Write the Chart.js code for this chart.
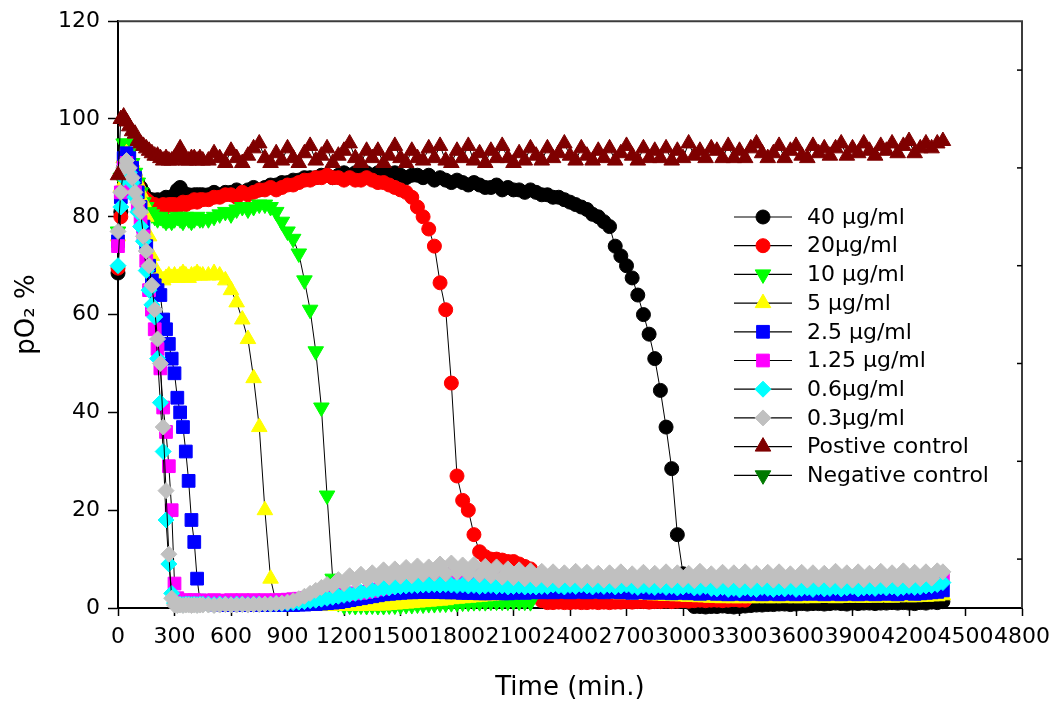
<!DOCTYPE html>
<html>
<head>
<meta charset="utf-8">
<script src="https://cdn.jsdelivr.net/npm/chart.js@4.4.1/dist/chart.umd.min.js"></script>
<style>
  html, body { margin: 0; padding: 0; background: #fff; }
  #wrap { width: 1063px; height: 709px; }
</style>
</head>
<body>
<div id="wrap"><canvas id="myChart" width="1063" height="709"></canvas></div>
<script>
// sampling times (min.)
var times = [
  0, 15, 30, 45, 60, 75, 90, 105, 120, 135,
  150, 165, 180, 195, 210, 225, 240, 255, 270, 285,
  300, 315, 330, 345, 360, 375, 390, 405, 420, 435,
  450,
  480, 510, 540, 570, 600, 630, 660, 690, 720, 750,
  780, 810, 840, 870, 900, 930, 960, 990, 1020, 1050,
  1080, 1110, 1140, 1170, 1200, 1230, 1260, 1290, 1320, 1350,
  1380, 1410, 1440, 1470, 1500, 1530, 1560, 1590, 1620, 1650,
  1680, 1710, 1740, 1770, 1800, 1830, 1860, 1890, 1920, 1950,
  1980, 2010, 2040, 2070, 2100, 2130, 2160, 2190, 2220, 2250,
  2280, 2310, 2340, 2370, 2400, 2430, 2460, 2490, 2520, 2550,
  2580, 2610, 2640, 2670, 2700, 2730, 2760, 2790, 2820, 2850,
  2880, 2910, 2940, 2970, 3000, 3030, 3060, 3090, 3120, 3150,
  3180, 3210, 3240, 3270, 3300, 3330, 3360, 3390, 3420, 3450,
  3480, 3510, 3540, 3570, 3600, 3630, 3660, 3690, 3720, 3750,
  3780, 3810, 3840, 3870, 3900, 3930, 3960, 3990, 4020, 4050,
  4080, 4110, 4140, 4170, 4200, 4230, 4260, 4290, 4320, 4350,
  4380
];

// pO2 % for each series (same order as times; shorter arrays just stop)
var c40 = [
  68.5, 81, 90, 92, 91, 90, 88.5, 87, 86, 85,
  84, 83.5, 83.5, 83, 83.5, 83, 83.5, 84, 83.5, 84,
  84.5, 85.5, 86, 85, 84.5, 84.5, 84, 84.5, 84.5, 84.5,
  84.5,
  84.5, 85, 84.5, 85, 85, 85.5, 85, 85.5, 86, 85.5,
  86, 86.5, 86.5, 87, 87, 87.5, 87.5, 88, 88, 88,
  88.5, 88.5, 88, 88.5, 89, 88.5, 89, 89.5, 89, 88.5,
  89, 89, 88.5, 89, 88.5, 88, 88.5, 88.5, 88, 88.5,
  87.5, 88, 87.5, 87, 87.5, 87, 86.5, 87, 86.5, 86,
  86, 86.5, 85.5, 86, 85.5, 85.5, 85, 85.5, 85, 84.5,
  84.5, 84, 84, 83.5, 83, 82.5, 82, 81.5, 80.5, 80,
  79, 78, 74, 72, 70, 67.5, 64, 60, 56, 51,
  44.5, 37, 28.5, 15, 7, 1.2, 0.3, 0.3, 0.2, 0.3,
  0.3, 0.4, 0.3, 0.2, 0.3, 0.4, 0.5, 0.6, 0.6, 0.7,
  0.7, 0.8, 0.8, 0.7, 0.8, 0.9, 0.8, 0.9, 0.9, 0.8,
  0.9, 1, 0.9, 0.8, 1, 0.9, 1, 1, 0.9, 1,
  1, 1.1, 1, 1.1, 1, 0.9, 1.1, 1, 1.2, 1.1,
  1.3
];
var c20 = [
  69.5, 80, 88, 91, 90, 89, 88, 86.5, 85, 84,
  83.5, 83, 82.5, 82.5, 82, 82, 82.5, 82, 82.5, 82.5,
  82.5, 82, 82.5, 83, 82.5, 83, 83, 83.5, 83, 83.5,
  83.5,
  83.5, 84, 84, 84.5, 84.5, 84, 85, 84.5, 85, 85.5,
  85.5, 86, 85.5, 86, 86.5, 86.5, 87, 87.5, 87.5, 88,
  88, 88.5, 88, 88, 87.5, 88, 87.5, 87.5, 88, 87.5,
  87, 87, 86.5, 86, 85.5, 85, 84, 82, 80, 77.5,
  74, 66.5, 61, 46, 27, 22, 20, 15, 11.5, 10.5,
  10, 10, 9.8, 9.5, 9.5, 9, 8.5, 8, 5, 1.5,
  1.1, 1.1, 1.2, 1.1, 1.1, 1.2, 1.1, 1.1, 1.2, 1.1,
  1.2, 1.1, 1.2, 1.2, 1.3, 1.2, 1.3, 1.3, 1.2, 1.3,
  1.3, 1.4, 1.3, 1.4, 1.5, 1.4, 1.5, 1.6, 1.5, 1.6,
  1.6, 1.5, 1.6, 1.7, 1.6, 1.6
];
var c10 = [
  77, 88, 95, 95, 93, 91, 89, 87, 85, 83,
  82, 81, 80.5, 80, 79.5, 80, 79.5, 79, 79.5, 79,
  79.5, 80, 79.5, 79, 80, 79.5, 79, 79.5, 80, 79.5,
  79.5,
  79.5, 80, 80.5, 81, 80.5, 81.5, 82, 81.5, 82, 82.5,
  82.5, 82, 81, 79, 77, 75.5, 72.5, 67, 61, 52.5,
  41, 23, 6, 1, 0.5, 0.5, 0.4, 0.5, 0.4, 0.5,
  0.4, 0.4, 0.5, 0.5, 0.5, 0.6, 0.6, 0.7, 0.7, 0.8,
  0.8, 0.9, 0.9, 1, 1, 1.1, 1.1, 1.2, 1.2, 1.2,
  1.3, 1.3, 1.3, 1.3, 1.4, 1.3, 1.3, 1.2
];
var c5 = [
  76, 86, 92, 93, 92, 91, 89, 87, 85, 83,
  80, 76, 72, 69.5, 68, 67.5, 67, 67.5, 68, 67.5,
  68, 67.5, 68, 68.5, 68, 67.5, 68, 68, 68.5, 68,
  68,
  68, 68.5, 68, 67, 65, 62.5, 59, 55, 47, 37,
  20, 6, 1, 0.5, 0.4, 0.4, 0.5, 0.4, 0.4, 0.5,
  0.4, 0.5, 0.4, 0.5, 0.4, 0.5, 0.5, 0.4, 0.5, 0.5,
  0.5, 0.5, 0.6, 0.7, 0.8, 0.9, 1, 1.1, 1.2, 1.3,
  1.4, 1.5, 1.6, 1.8, 1.9, 2, 2.1, 2.2, 2.3, 2.4,
  2.5, 2.6, 2.7, 2.8, 2.9, 3, 3.1, 3.1, 3.2, 3.2,
  3.2, 3.2, 3.1, 3.2, 3.1, 3.1, 3, 3.1, 3, 3,
  3, 2.9, 2.9, 2.8, 2.9, 2.8, 2.7, 2.8, 2.7, 2.6,
  2.6, 2.5, 2.5, 2.4, 2.4, 2.3, 2.3, 2.2, 2.2, 2.1,
  2.1, 2, 2.1, 2, 2, 2.1, 2, 2, 2.1, 2,
  2, 2.1, 2, 2.1, 2, 2, 2.1, 2, 2.1, 2.1,
  2.1, 2, 2.1, 2.1, 2.2, 2.1, 2.1, 2.2, 2.1, 2.2,
  2.2, 2.1, 2.2, 2.3, 2.2, 2.2, 2.3, 2.3, 2.4, 2.4,
  2.6
];
var c2_5 = [
  75, 84, 92, 93, 92, 90, 88, 85, 82, 78,
  74, 70, 67, 66, 65, 64, 59, 57, 54, 51,
  48, 43, 40, 37, 32, 26, 18, 13.5, 6, 1.5,
  1,
  0.8, 0.7, 0.7, 0.6, 0.7, 0.6, 0.6, 0.7, 0.6, 0.6,
  0.6, 0.7, 0.6, 0.6, 0.7, 0.6, 0.7, 0.7, 0.8, 0.8,
  0.9, 1, 1.1, 1.2, 1.4, 1.6, 1.8, 2, 2.2, 2.4,
  2.6, 2.8, 2.9, 3, 3.1, 3.2, 3.2, 3.3, 3.3, 3.3,
  3.3, 3.3, 3.2, 3.2, 3.2, 3.1, 3.1, 3.1, 3, 3,
  3, 3.1, 3, 3, 3.1, 3.2, 3.1, 3.2, 3.3, 3.2,
  3.3, 3.2, 3.4, 3.3, 3.2, 3.4, 3.3, 3.2, 3.4, 3.3,
  3.2, 3.4, 3.3, 3.2, 3.3, 3.1, 3.2, 3.3, 3.1, 3.2,
  3.1, 3.2, 3, 3.1, 3.2, 3, 3.1, 2.9, 3.1, 3,
  2.9, 3, 2.8, 2.9, 3, 2.8, 2.9, 3, 2.8, 2.9,
  3, 2.8, 2.9, 3, 2.8, 2.9, 3, 2.9, 3, 2.8,
  2.9, 3, 2.8, 3, 2.9, 2.8, 3, 2.9, 2.8, 3,
  2.9, 3, 2.8, 3, 3.1, 2.9, 3, 3.1, 3.2, 3.3,
  3.6
];
var c1_25 = [
  74, 85, 90, 91, 89, 87, 85, 82, 79, 76,
  71, 65, 61, 57, 53, 49, 41, 36, 29, 20,
  5, 2, 1.5, 1.5, 1.6, 1.5, 1.5, 1.6, 1.5, 1.5,
  1.5,
  1.5, 1.6, 1.5, 1.5, 1.6, 1.5, 1.6, 1.5, 1.6, 1.5,
  1.6, 1.5, 1.6, 1.6, 1.7, 1.8, 1.9, 2, 2.1, 2.2,
  2.3, 2.4, 2.5, 2.6, 2.8, 2.9, 3, 3.1, 3.3, 3.5,
  3.8, 4, 4.3, 4.6, 5, 5.3, 5.6, 5.9, 6.1, 6.3,
  6.5, 6.7, 6.8, 7, 7, 7.1, 7, 7.1, 7, 7,
  7, 6.9, 7, 6.8, 6.9, 6.7, 6.8, 6.6, 6.6, 6.5,
  6.4, 6.5, 6.3, 6.2, 6.3, 6.1, 6.2, 6, 6, 5.9,
  5.8, 5.9, 5.7, 5.8, 5.6, 5.7, 5.6, 5.5, 5.6, 5.5,
  5.6, 5.4, 5.5, 5.6, 5.4, 5.5, 5.6, 5.4, 5.5, 5.6,
  5.5, 5.4, 5.6, 5.5, 5.4, 5.6, 5.5, 5.4, 5.5, 5.6,
  5.4, 5.5, 5.6, 5.5, 5.4, 5.6, 5.5, 5.5, 5.4, 5.6,
  5.5, 5.6, 5.4, 5.5, 5.6, 5.5, 5.4, 5.6, 5.5, 5.6,
  5.5, 5.6, 5.7, 5.5, 5.6, 5.7, 5.6, 5.8, 5.7, 5.9,
  6.2
];
var c0_6 = [
  70, 82, 88, 90, 89, 87, 84, 81, 78, 75,
  69, 65, 62, 59.5, 51, 42, 32, 18, 9, 3,
  1, 0.8, 0.8, 0.7, 0.8, 0.8, 0.7, 0.8, 0.7, 0.8,
  0.8,
  0.8, 0.7, 0.8, 0.8, 0.7, 0.8, 0.8, 0.7, 0.8, 0.8,
  0.8, 0.8, 0.9, 0.9, 1, 1.1, 1.2, 1.3, 1.5, 1.6,
  1.8, 2, 2.2, 2.4, 2.6, 2.8, 3, 3.2, 3.4, 3.6,
  3.8, 4, 4.1, 4.3, 4.4, 4.5, 4.6, 4.6, 4.7, 4.7,
  4.8, 4.7, 4.8, 4.7, 4.6, 4.7, 4.5, 4.6, 4.4, 4.5,
  4.6, 4.4, 4.5, 4.3, 4.4, 4.5, 4.3, 4.4, 4.3, 4.4,
  4.4, 4.7, 4.5, 4.3, 4.6, 4.4, 4.7, 4.5, 4.3, 4.6,
  4.4, 4.6, 4.3, 4.5, 4.7, 4.4, 4.2, 4.5, 4.4, 4.2,
  4.5, 4.2, 4.4, 4.1, 4.3, 4.5, 4.1, 4.2, 4.4, 4,
  3.9, 4.2, 3.8, 4, 3.7, 4.1, 3.9, 3.8, 4.2, 4,
  3.8, 4.1, 3.9, 4.2, 3.8, 4, 4.1, 3.8, 4.2, 3.9,
  4, 4.2, 3.9, 4.1, 4.3, 3.9, 4.1, 4.2, 4, 4.3,
  4.1, 4.3, 4, 4.2, 4.4, 4.2, 4.3, 4.5, 4.6, 4.8,
  5.2
];
var c0_3 = [
  77, 85, 90, 91.5, 90, 88, 85, 83, 81, 76,
  73, 70, 66, 61, 55, 50, 37, 24, 11, 2,
  0.6, 0.5, 0.6, 0.5, 0.6, 0.6, 0.5, 0.6, 0.5, 0.6,
  0.6,
  0.6, 0.5, 0.6, 0.7, 0.6, 0.6, 0.7, 0.6, 0.7, 0.7,
  0.8, 0.8, 0.9, 1, 1.2, 1.5, 1.9, 2.4, 3, 3.6,
  4.2, 4.8, 4.6, 5.8, 5, 6.6, 5.6, 6.9, 5.8, 7.2,
  6.2, 7.8, 6.3, 8, 6.5, 8.3, 6.6, 8.6, 6.9, 8.4,
  7.1, 9, 7, 9.2, 7.3, 8.8, 7, 8.9, 6.8, 8.5,
  6.6, 8.4, 6.3, 8, 6.2, 7.8, 6, 7.6, 5.9, 7.5,
  5.8, 7.4, 5.7, 7.2, 5.9, 7.5, 5.6, 7.3, 5.8, 7.1,
  5.7, 7.2, 5.6, 7.4, 5.9, 7, 5.6, 7.3, 5.8, 7.1,
  5.6, 7.4, 5.7, 7.2, 5.8, 7.1, 5.6, 7.5, 5.9, 7,
  5.6, 7.3, 5.8, 7.2, 5.7, 7.4, 5.6, 7.1, 5.9, 7.3,
  5.7, 7.4, 5.6, 7, 5.8, 7.3, 5.7, 7.2, 5.9, 7.1,
  5.8, 7.5, 5.6, 7.2, 5.7, 7.4, 5.8, 7.1, 5.9, 7.5,
  5.8, 7.2, 5.9, 7.6, 5.7, 7.3, 6, 7.4, 6.1, 7.6,
  7.4
];
var posControl = [
  88.5, 100, 100.5, 99.5, 98.5, 97.5, 97, 95.5, 95, 94.5,
  94, 93.5, 93, 92.5, 92.5, 92, 91.5, 92, 91.5, 91.5,
  92, 92.5, 94, 92.5, 91.5, 91.5, 92, 92, 91.5, 92,
  91.5,
  91.5, 93, 92, 91, 93.5, 92, 91, 92.5, 94, 95,
  92, 91, 93, 91.5, 94, 92, 91, 93, 94.5, 91.5,
  92.5, 94, 91, 92.5, 93.5, 95, 92, 91, 93.5, 92,
  93.5, 91, 92.5, 94.5, 92, 91, 93.5, 92, 91.5, 94,
  92, 94.5, 91.5, 91, 93.5, 92, 94.5, 91.5, 93, 91,
  93.5, 92, 94.5, 92, 91, 93, 91.5, 94, 92.5, 91.5,
  94, 92, 93, 95, 92.5, 91.5, 94, 92.5, 91.5, 93.5,
  92, 94, 91.5, 93, 94.5, 92.5, 91.5, 94, 92, 93.5,
  92, 94, 91.5, 93.5, 92, 95, 92.5, 93.5, 92, 94,
  93.5, 92, 94.5, 92, 93.5, 92, 94, 95, 93, 92,
  93, 94.5, 92, 93.5, 94.5, 92.5, 92, 94.5, 93, 94,
  92.5, 94, 95, 92.5, 94, 93, 95, 93.5, 92.5, 94.5,
  93.5, 95, 93, 94.5, 95.5, 93, 94, 95, 94, 95,
  95.5
];
var negControl = []; // not visible in the plot, legend entry only

var seriesNames = ['40 µg/ml', '20µg/ml', '10 µg/ml', '5 µg/ml', '2.5 µg/ml',
  '1.25 µg/ml', '0.6µg/ml', '0.3µg/ml', 'Postive control', 'Negative control'];
var xTickValues = [0, 300, 600, 900, 1200, 1500, 1800, 2100, 2400, 2700, 3000,
  3300, 3600, 3900, 4200, 4500, 4800];
var yTickValues = [0, 20, 40, 60, 80, 100, 120];
var rightTickValues = [10, 30, 50, 70, 90, 110];

Chart.defaults.font.family = "'DejaVu Sans', sans-serif";
Chart.defaults.color = '#000';

function makeSet(i, values, color, style, radius, rotation) {
  return {
    label: seriesNames[i],
    data: values.map(function (v, k) { return { x: times[k], y: v }; }),
    borderColor: '#000',
    borderWidth: 1,
    pointStyle: style,
    pointRadius: radius,
    pointHoverRadius: radius,
    pointRotation: rotation,
    pointBackgroundColor: color,
    pointBorderColor: color,
    pointBorderWidth: 1,
    fill: false,
    tension: 0,
    clip: false,
    order: 20 - i // later series drawn on top
  };
}

var datasets = [
  makeSet(0, c40, '#000000', 'circle', 7, 0),
  makeSet(1, c20, '#FF0000', 'circle', 7, 0),
  makeSet(2, c10, '#00FF00', 'triangle', 9, 180),
  makeSet(3, c5, '#FFFF00', 'triangle', 9, 0),
  makeSet(4, c2_5, '#0000FF', 'rect', 9, 0),
  makeSet(5, c1_25, '#FF00FF', 'rect', 9, 0),
  makeSet(6, c0_6, '#00FFFF', 'rectRot', 8, 0),
  makeSet(7, c0_3, '#C0C0C0', 'rectRot', 8, 0),
  makeSet(8, posControl, '#7F0000', 'triangle', 9, 0),
  makeSet(9, negControl, '#007A00', 'triangle', 9, 180)
];

// box border on top / right, with small inward ticks on the right side
var chartFrame = {
  id: 'chartFrame',
  beforeDatasetsDraw: function (chart) {
    var a = chart.chartArea, ctx = chart.ctx, ys = chart.scales.y;
    ctx.save();
    ctx.strokeStyle = '#3c3c3c';
    ctx.lineWidth = 2;
    ctx.beginPath();
    ctx.moveTo(a.left, a.top);
    ctx.lineTo(a.right, a.top);
    ctx.lineTo(a.right, a.bottom);
    ctx.stroke();
    ctx.strokeStyle = '#000';
    ctx.lineWidth = 1.5;
    rightTickValues.forEach(function (v) {
      var py = ys.getPixelForValue(v);
      ctx.beginPath();
      ctx.moveTo(a.right - 5, py);
      ctx.lineTo(a.right, py);
      ctx.stroke();
    });
    ctx.restore();
  }
};

// legend drawn inside the plot area
var insideLegend = {
  id: 'insideLegend',
  afterDraw: function (chart) {
    var ctx = chart.ctx;
    ctx.save();
    chart.data.datasets.forEach(function (ds, i) {
      var y = 217 + i * 28.7;
      ctx.strokeStyle = '#000';
      ctx.lineWidth = 1.2;
      ctx.beginPath();
      ctx.moveTo(734, y);
      ctx.lineTo(792, y);
      ctx.stroke();
      ctx.fillStyle = ds.pointBackgroundColor;
      ctx.strokeStyle = ds.pointBorderColor;
      ctx.lineWidth = 1;
      Chart.helpers.drawPoint(ctx, {
        pointStyle: ds.pointStyle,
        radius: ds.pointRadius,
        rotation: ds.pointRotation,
        borderWidth: 1
      }, 763, y);
      ctx.fillStyle = '#000';
      ctx.font = "22px 'DejaVu Sans'";
      ctx.textAlign = 'left';
      ctx.textBaseline = 'middle';
      ctx.fillText(ds.label, 807, y + 1);
    });
    ctx.restore();
  }
};

var ctx = document.getElementById('myChart');
var myChart = new Chart(ctx, {
  type: 'line',
  data: { datasets: datasets },
  plugins: [chartFrame, insideLegend],
  options: {
    responsive: false,
    animation: false,
    events: [],
    layout: { padding: { top: 21, right: 41, left: 0, bottom: 0 } },
    plugins: {
      legend: { display: false },
      tooltip: { enabled: false }
    },
    scales: {
      x: {
        type: 'linear',
        min: 0,
        max: 4800,
        afterBuildTicks: function (axis) {
          axis.ticks = xTickValues.map(function (v) { return { value: v }; });
        },
        afterFit: function (axis) { axis.height = 101; },
        ticks: {
          autoSkip: false,
          maxRotation: 0,
          minRotation: 0,
          padding: 8,
          font: { size: 22 },
          color: '#000',
          callback: function (val) { return String(val); }
        },
        grid: {
          drawOnChartArea: false,
          drawTicks: true,
          tickLength: 8,
          tickColor: '#000',
          tickWidth: 1.5
        },
        border: { display: true, color: '#000', width: 2 },
        title: {
          display: true,
          text: 'Time (min.)',
          font: { size: 26 },
          color: '#000',
          padding: { top: 0, bottom: 5 }
        }
      },
      y: {
        min: 0,
        max: 120,
        afterBuildTicks: function (axis) {
          axis.ticks = yTickValues.map(function (v) { return { value: v }; });
        },
        afterFit: function (axis) { axis.width = 118; },
        ticks: {
          padding: 8,
          font: { size: 22 },
          color: '#000',
          callback: function (val) { return String(val); }
        },
        grid: {
          drawOnChartArea: false,
          drawTicks: true,
          tickLength: 10,
          tickColor: '#000',
          tickWidth: 1.5
        },
        border: { display: true, color: '#000', width: 2 },
        title: {
          display: true,
          text: 'pO₂ %',
          font: { size: 26 },
          color: '#000',
          padding: { top: 12, bottom: 0 }
        }
      }
    }
  }
});
</script>
</body>
</html>
